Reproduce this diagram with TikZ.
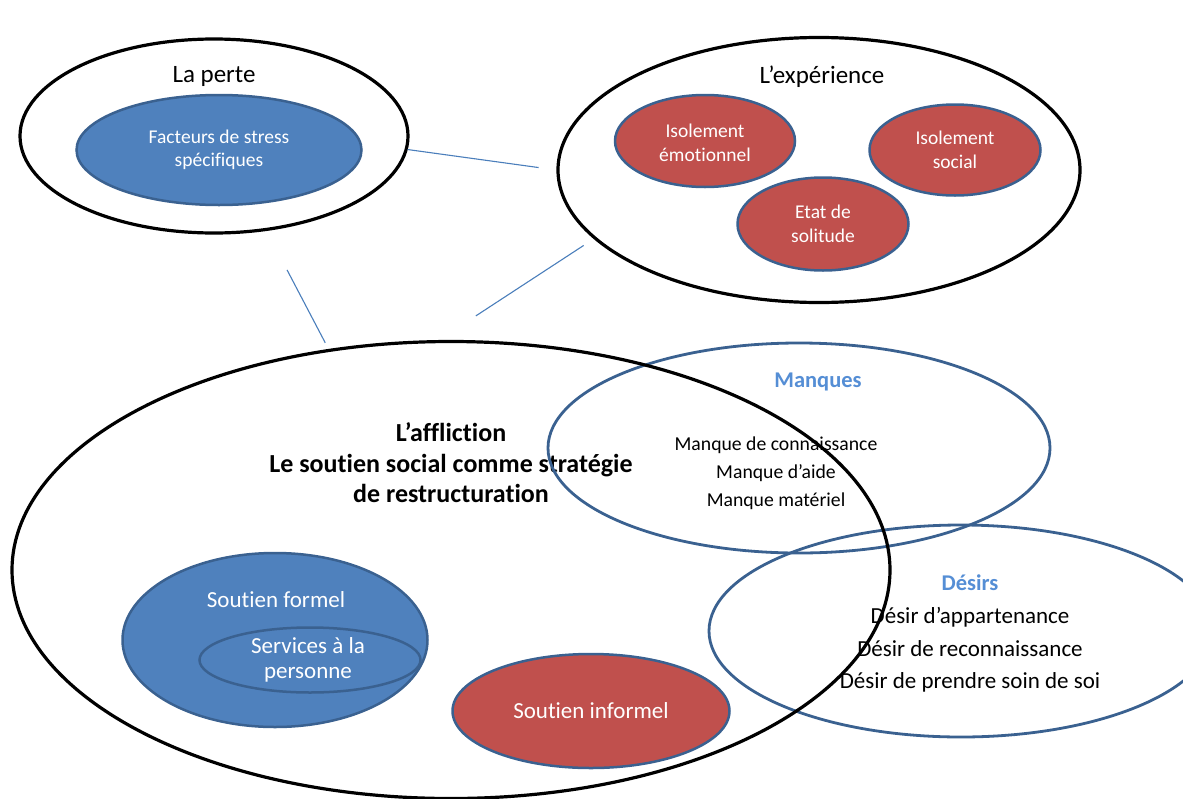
\documentclass[tikz,border=0pt]{standalone}
\usepackage{fontspec}
\setmainfont{Carlito}[Ligatures=NoCommon]
\usetikzlibrary{shapes.geometric}
\definecolor{fillblue}{HTML}{4F81BD}
\definecolor{fillred}{HTML}{C0504D}
\definecolor{rimblue}{HTML}{3A6190}
\definecolor{headblue}{HTML}{558ED5}
\definecolor{linkblue}{HTML}{4A7EBB}
\newcommand{\fsz}[2]{\fontsize{#1}{#2}\selectfont}
\tikzset{
  ring/.style={ellipse, draw=black, line width=3.2pt, inner sep=0pt},
  blob/.style={ellipse, draw=rimblue, line width=2.5pt, inner sep=0pt},
  bluefill/.style={blob, fill=fillblue},
  redfill/.style={blob, fill=fillred},
  hoop/.style={ellipse, draw=rimblue, line width=2.8pt, inner sep=0pt},
  link/.style={linkblue, line width=1.1pt},
  heading/.style={font=\fsz{25}{30}, inner sep=0pt},
  inside/.style={text=white, align=center, inner sep=0pt, font=\fsz{19.5}{23.5}},
  insidebig/.style={text=white, align=center, inner sep=0pt, font=\fsz{23}{25}},
  subhead/.style={text=headblue, font=\bfseries\fsz{22.5}{27}, inner sep=0pt},
  items/.style={align=center, inner sep=0pt}
}
\begin{document}
\begin{tikzpicture}[x=1pt,y=-1pt]
  \useasboundingbox (0,0) rectangle (1183,798);

  % la perte
  \node[ring, minimum width=388, minimum height=194] (perte) at (214,136) {};
  \node[heading] (perte-t) at (214,76) {La perte};
  \node[bluefill, minimum width=285, minimum height=110] (stress) at (219,150) {};
  \node[inside] (stress-t) at (stress) {Facteurs de stress\\sp\'ecifiques};

  % l'experience
  \node[ring, minimum width=522, minimum height=265] (experience) at (819,170) {};
  \node[heading] (experience-t) at (822,77) {L’expérience};
  \node[redfill, minimum width=180, minimum height=92] (emotion) at (705,141) {};
  \node[inside] (emotion-t) at ([yshift=-2]emotion.center) {Isolement\\émotionnel};
  \node[redfill, minimum width=171, minimum height=91] (social) at (955,150) {};
  \node[inside] (social-t) at (social) {Isolement\\social};
  \node[redfill, minimum width=171, minimum height=93] (solitude) at (823,224) {};
  \node[inside] (solitude-t) at (solitude) {Etat de\\solitude};

  % l'affliction
  \node[items, font=\bfseries\fsz{26}{30.5}] (affliction-t) at (451,463)
    {L’affliction\\Le soutien social comme stratégie\\de restructuration};
  \node[bluefill, minimum width=305, minimum height=174] (formel) at (275,640) {};
  \node[insidebig] (formel-t) at (276,600) {Soutien formel};
  \node[bluefill, minimum width=221, minimum height=65] (services) at (310,660) {};
  \node[insidebig] (services-t) at (308,660) {Services à la\\personne};
  \node[redfill, minimum width=277, minimum height=114] (informel) at (591,711) {};
  \node[insidebig] (informel-t) at (informel) {Soutien informel};

  % manques et desirs
  \node[hoop, minimum width=502, minimum height=210] (manques) at (799,448) {};
  \node[subhead] (manques-t) at (818,382) {Manques};
  \node[items, font=\fsz{19.7}{28}] (manques-l) at (776,473)
    {Manque de connaissance\\Manque d’aide\\Manque matériel};
  \node[hoop, minimum width=504, minimum height=212] (desirs) at (961,631) {};
  \node[subhead] (desirs-t) at (970,583) {Désirs};
  \node[items, font=\fsz{23}{32.5}] (desirs-l) at (970,650)
    {Désir d’appartenance\\Désir de reconnaissance\\Désir de prendre soin de soi};

  \node[ring, minimum width=878, minimum height=457] (affliction) at (451,570) {};

  \draw[link, shorten >=18pt] (perte.-4) -- (experience.west);
  \draw[link, shorten <=12pt, shorten >=44pt] (experience.197) -- (affliction.93);
  \draw[link, shorten <=44pt, shorten >=7pt] (perte.-61.5) -- (affliction.119);
\end{tikzpicture}
\end{document}
